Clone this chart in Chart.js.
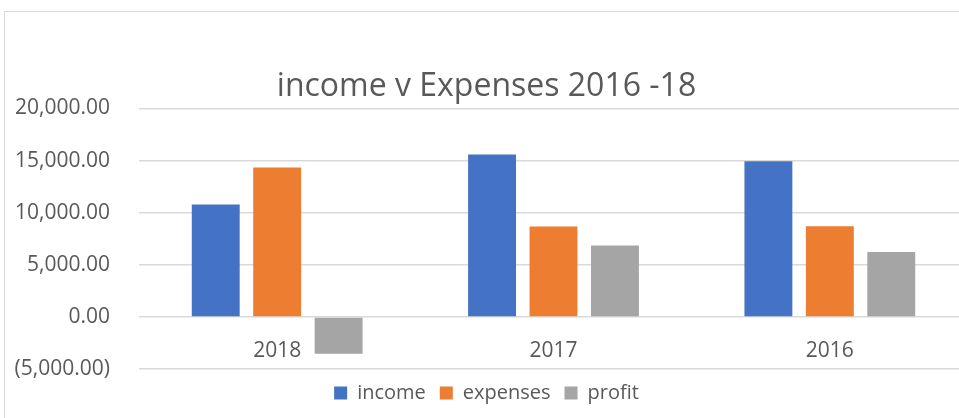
<!DOCTYPE html>
<html>
<head>
<meta charset="utf-8">
<script src="https://cdn.jsdelivr.net/npm/chart.js@4"></script>
<style>
    html, body { margin: 0; padding: 0; background: #fff; overflow: hidden; }
    #box {
        position: absolute;
        left: 4px;
        top: 11px;
        width: 968px;
        height: 420px;
        border-top: 1px solid #d9d9d9;
        border-left: 1px solid #d9d9d9;
    }
    #incomeChart { display: block; }
</style>
</head>
<body>
<div id="box">
    <canvas id="incomeChart" width="968" height="406"></canvas>
</div>
<script>
const years = ['2018', '2017', '2016'];
const income = [10790, 15570, 14940];
const expenses = [14330, 8660, 8690];
const profit = [-3540, 6850, 6230];

const yMin = -5000;
const yMax = 20000;
const yStep = 5000;

Chart.defaults.font.family = "'Open Sans', sans-serif";
Chart.defaults.color = '#595959';

// Excel style number format, negatives in brackets
function formatMoney(value) {
    const s = Math.abs(value).toLocaleString('en-US', { minimumFractionDigits: 2, maximumFractionDigits: 2 });
    return value < 0 ? `(${s})` : s;
}

const ctx = document.getElementById('incomeChart').getContext('2d');

const incomeChart = new Chart(ctx, {
    type: 'bar',
    data: {
        labels: years,
        datasets: [
            {
                label: 'income',
                data: income,
                backgroundColor: '#4472C4'
            },
            {
                label: 'expenses',
                data: expenses,
                backgroundColor: '#ED7D31'
            },
            {
                label: 'profit',
                data: profit,
                backgroundColor: '#A5A5A5'
            }
        ]
    },
    options: {
        responsive: false,
        animation: false,
        categoryPercentage: 0.667,
        barPercentage: 0.78,
        layout: {
            padding: { left: 0, right: 5, top: 0, bottom: 5 }
        },
        plugins: {
            title: {
                display: true,
                text: 'income v Expenses 2016 -18',
                color: '#595959',
                font: { size: 32, weight: 'normal' },
                padding: { top: 56, bottom: 2 }
            },
            legend: {
                position: 'bottom',
                labels: {
                    boxWidth: 13,
                    boxHeight: 13,
                    padding: 14,
                    color: '#595959',
                    font: { size: 20 }
                }
            },
            tooltip: { enabled: false }
        },
        scales: {
            x: {
                position: { y: 0 },
                grid: { display: false },
                border: { display: false },
                ticks: {
                    padding: 14,
                    color: '#595959',
                    font: { size: 21 }
                }
            },
            y: {
                min: yMin,
                max: yMax,
                afterFit: (scale) => { scale.width = 134; },
                grid: {
                    color: '#d9d9d9',
                    lineWidth: 1.5,
                    drawTicks: false
                },
                border: { display: false },
                ticks: {
                    stepSize: yStep,
                    padding: 29,
                    color: '#595959',
                    font: { size: 21 },
                    callback: (value) => formatMoney(value)
                }
            }
        }
    }
});
</script>
</body>
</html>
